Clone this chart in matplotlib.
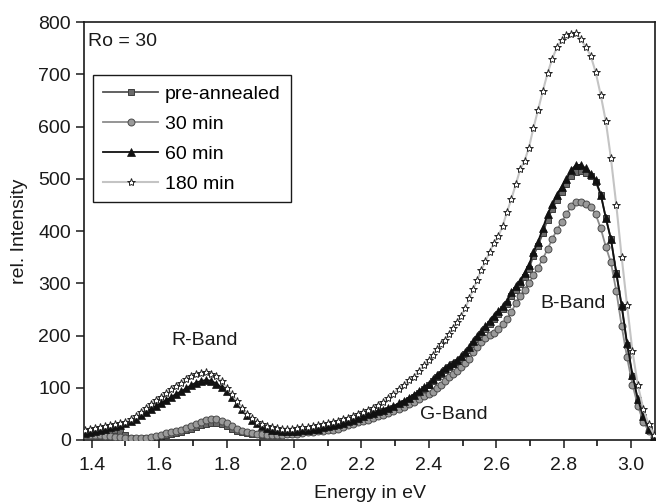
import matplotlib.pyplot as plt
from matplotlib.ticker import MultipleLocator

plt.rcParams['font.family'] = ['Liberation Sans', 'DejaVu Sans']

# photon energy grid (eV), shared by all spectra
energy = [1.380, 1.395, 1.410, 1.425, 1.440, 1.455, 1.470, 1.485, 1.500, 1.515,
          1.530, 1.545, 1.560, 1.575, 1.590, 1.605, 1.620, 1.635, 1.650, 1.665,
          1.680, 1.695, 1.710, 1.725, 1.740, 1.755, 1.770, 1.785, 1.800, 1.815,
          1.830, 1.845, 1.860, 1.875, 1.890, 1.905, 1.920, 1.935, 1.950, 1.965,
          1.980, 1.995, 2.010, 2.025, 2.040, 2.055, 2.070, 2.085, 2.100, 2.115,
          2.130, 2.145, 2.160, 2.175, 2.190, 2.205, 2.220, 2.235, 2.250, 2.265,
          2.280, 2.295, 2.310, 2.325, 2.340, 2.355, 2.370, 2.385, 2.400,
          2.412, 2.424, 2.436, 2.448, 2.460, 2.472, 2.484, 2.496, 2.508, 2.520,
          2.532, 2.544, 2.556, 2.568, 2.580, 2.593, 2.606, 2.619, 2.632, 2.645,
          2.658, 2.671, 2.684, 2.697, 2.710, 2.724, 2.738, 2.752, 2.766, 2.780,
          2.794, 2.808, 2.822, 2.836, 2.850, 2.865, 2.880, 2.895, 2.910, 2.925,
          2.940, 2.956, 2.972, 2.988, 3.004, 3.020, 3.036, 3.052, 3.068]

pre_annealed = [18, 18, 19, 19, 20, 20, 20, 18, 10, 4,
                2, 2, 3, 4, 6, 8, 10, 12, 14, 16,
                19, 22, 25, 28, 30, 32, 32, 30, 26, 22,
                18, 15, 13, 12, 11, 10, 10, 10, 10, 11,
                12, 13, 15, 16, 18, 19, 21, 22, 24, 26,
                28, 31, 34, 37, 40, 43, 46, 49, 52, 55,
                58, 62, 66, 71, 77, 83, 90, 97, 105,
                113, 120, 127, 134, 140, 145, 150, 156, 164, 173,
                183, 194, 203, 213, 222, 232, 241, 250, 260, 276,
                288, 299, 313, 328, 352, 372, 396, 422, 442, 460,
                475, 490, 505, 513, 515, 512, 505, 494, 470, 425,
                385, 320, 255, 182, 122, 76, 44, 21, 8]

min_30 = [10, 10, 9, 9, 8, 7, 6, 5, 4, 3,
          3, 3, 4, 6, 8, 10, 13, 15, 17, 20,
          23, 27, 31, 35, 38, 40, 40, 37, 32, 26,
          21, 17, 15, 13, 12, 11, 10, 10, 10, 10,
          11, 11, 12, 14, 15, 16, 17, 18, 19, 20,
          22, 25, 28, 31, 34, 37, 39, 42, 45, 48,
          51, 55, 59, 63, 68, 73, 78, 84, 89,
          92, 100, 106, 113, 120, 126, 132, 139, 147, 156,
          168, 178, 187, 195, 201, 205, 213, 222, 232, 245,
          262, 276, 288, 300, 315, 330, 347, 365, 385, 402,
          418, 432, 448, 456, 456, 452, 447, 432, 405, 370,
          340, 285, 218, 158, 106, 66, 35, 17, 6]

min_60 = [14, 16, 18, 20, 22, 24, 26, 29, 32, 36,
          41, 47, 53, 59, 65, 70, 76, 82, 88, 93,
          99, 105, 110, 113, 115, 113, 108, 101, 93, 83,
          71, 60, 48, 39, 32, 27, 23, 20, 19, 18,
          18, 18, 18, 19, 20, 21, 22, 24, 26, 28,
          30, 33, 36, 39, 43, 46, 49, 52, 55, 58,
          61, 65, 70, 75, 81, 87, 94, 101, 108,
          116, 124, 131, 138, 143, 148, 153, 160, 168, 178,
          189, 200, 208, 218, 228, 238, 247, 256, 266, 283,
          294, 305, 320, 335, 360, 380, 405, 432, 452, 470,
          485, 500, 517, 526, 527, 520, 510, 497, 470, 425,
          385, 320, 258, 185, 125, 78, 45, 22, 8]

min_180 = [20, 22, 23, 25, 27, 29, 31, 33, 35, 40,
           45, 53, 62, 69, 76, 83, 90, 97, 104, 110,
           116, 122, 126, 129, 130, 127, 122, 112, 100, 88,
           75, 62, 50, 42, 35, 30, 27, 25, 23, 22,
           22, 22, 23, 24, 25, 26, 28, 30, 32, 34,
           37, 40, 43, 46, 50, 54, 57, 62, 67, 73,
           80, 88, 98, 106, 114, 120, 132, 143, 154,
           163, 175, 183, 192, 203, 215, 226, 238, 252, 271,
           289, 307, 326, 342, 360, 377, 390, 410, 437, 462,
           490, 518, 535, 560, 597, 632, 668, 702, 730, 752,
           766, 775, 778, 779, 768, 753, 736, 704, 660, 610,
           540, 450, 350, 258, 170, 105, 60, 30, 10]

fs = 14
ink = '#1a1a1a'

fig = plt.figure(figsize=(6.59, 5.04), dpi=100)
ax = fig.add_axes([0.1275, 0.127, 0.8665, 0.829])

ax.plot(energy, pre_annealed, color='#555555', lw=1.3, marker='s', ms=4.5,
        mfc='#6a6a6a', mec='#3c3c3c', mew=0.7, label='pre-annealed', zorder=2)
ax.plot(energy, min_30, color='#8c8c8c', lw=1.3, marker='o', ms=5,
        mfc='#9a9a9a', mec='#4a4a4a', mew=0.7, label='30 min', zorder=3)
ax.plot(energy, min_60, color='#111111', lw=1.3, marker='^', ms=5.5,
        mfc='#111111', mec='#111111', mew=0.5, label='60 min', zorder=4)
ax.plot(energy, min_180, color='#c4c4c4', lw=1.5, marker='*', ms=6,
        mfc='white', mec='#222222', mew=0.7, label='180 min', zorder=5)

ax.set_xlim(1.377, 3.071)
ax.set_ylim(0, 800)
ax.xaxis.set_major_locator(MultipleLocator(0.2))
ax.xaxis.set_minor_locator(MultipleLocator(0.1))
ax.yaxis.set_major_locator(MultipleLocator(100))
ax.xaxis.set_major_formatter(plt.FormatStrFormatter('%.1f'))
ax.tick_params(axis='both', which='major', direction='out', length=6, width=1.1,
               labelsize=fs, colors=ink)
ax.tick_params(axis='x', which='major', pad=6)
ax.tick_params(axis='x', which='minor', direction='out', length=4, width=1.1)
for sp in ax.spines.values():
    sp.set_linewidth(1.2)
    sp.set_color(ink)

ax.set_xlabel('Energy in eV', fontsize=fs, color=ink, labelpad=8)
ax.set_ylabel('rel. Intensity', fontsize=fs, color=ink, labelpad=7)

ax.text(0.007, 0.953, 'Ro = 30', transform=ax.transAxes, fontsize=fs,
        ha='left', va='center', color=ink)
ax.text(1.736, 191, 'R-Band', fontsize=fs, ha='center', va='center', color=ink)
ax.text(2.473, 48, 'G-Band', fontsize=fs, ha='center', va='center', color=ink)
ax.text(2.829, 262, 'B-Band', fontsize=fs, ha='center', va='center', color=ink)

leg = ax.legend(loc='upper left', bbox_to_anchor=(0.016, 0.873), fontsize=fs,
                frameon=True, fancybox=False, edgecolor=ink, framealpha=1,
                handlelength=2.85, borderpad=0.5, labelspacing=0.64, handletextpad=0.35,
                borderaxespad=0)
leg.get_frame().set_linewidth(1.0)

fig.savefig('out.png', dpi=100)
